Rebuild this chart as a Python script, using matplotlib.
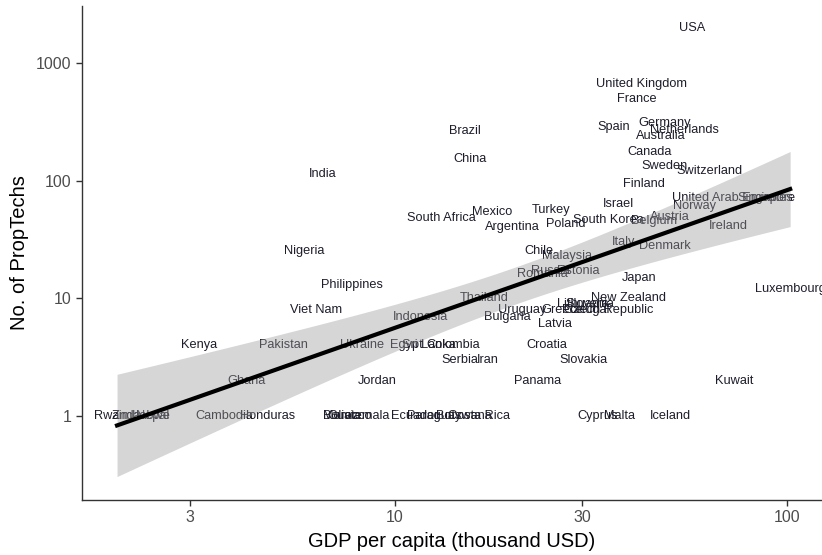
import matplotlib
matplotlib.use("Agg")
import matplotlib.pyplot as plt
import numpy as np

plt.rcParams["font.family"] = ["Liberation Sans", "DejaVu Sans"]

# GDP per capita (thousand USD) and number of PropTechs per country
countries = [
    "USA", "United Kingdom", "France", "Spain", "Germany", "Netherlands",
    "Australia", "Canada", "Sweden", "Switzerland", "Finland", "Israel",
    "United Arab Emirates", "Singapore", "Norway", "Austria", "Belgium",
    "South Korea", "Ireland", "Poland", "Turkey", "Mexico", "Argentina",
    "South Africa", "India", "Brazil", "China", "Nigeria", "Philippines",
    "Viet Nam", "Indonesia", "Thailand", "Bulgaria", "Uruguay", "Greece",
    "Latvia", "Chile", "Malaysia", "Romania", "Russia", "Estonia", "Italy",
    "Denmark", "Japan", "New Zealand", "Lithuania", "Slovenia", "Portugal",
    "Czech Republic", "Luxembourg", "Kenya", "Pakistan", "Ukraine", "Egypt",
    "Sri Lanka", "Colombia", "Serbia", "Iran", "Croatia", "Slovakia",
    "Ghana", "Jordan", "Panama", "Kuwait", "Rwanda", "Zimbabwe", "Nepal",
    "Cambodia", "Honduras", "Bolivia", "Morocco", "Guatemala", "Ecuador",
    "Paraguay", "Botswana", "Costa Rica", "Cyprus", "Malta", "Iceland",
]
gdp = [
    57.4, 42.5, 41.3, 36.1, 48.7, 54.7,
    47.8, 44.6, 48.6, 63.6, 43.1, 37.1,
    72.6, 88.7, 58.0, 50.4, 45.9,
    35.0, 70.9, 27.3, 25.0, 17.7, 19.9,
    13.1, 6.55, 15.1, 15.5, 5.86, 7.76,
    6.28, 11.6, 16.9, 19.3, 21.1, 26.7,
    25.6, 23.3, 27.5, 23.7, 24.9, 29.4, 38.2,
    48.9, 42.0, 39.4, 30.2, 31.5, 30.6,
    35.2, 102.0, 3.16, 5.2, 8.23, 10.7,
    12.2, 14.1, 14.6, 17.2, 24.4, 30.2,
    4.17, 8.99, 23.1, 73.5, 1.95, 2.25, 2.4,
    3.66, 4.73, 7.29, 7.55, 8.06, 11.2,
    12.6, 15.0, 16.4, 32.8, 37.3, 50.4,
]
proptechs = [
    2000, 660, 490, 285, 310, 270,
    240, 175, 133, 121, 94, 63,
    71, 71, 61, 49, 45,
    46, 41, 43, 56, 54, 40,
    48, 114, 264, 153, 25, 13,
    8, 7, 10, 7, 8, 8,
    6, 25, 23, 16, 17, 17, 30,
    28, 15, 10, 9, 9, 8,
    8, 12, 4, 4, 4, 4,
    4, 4, 3, 3, 4, 3,
    2, 2, 2, 2, 1, 1, 1,
    1, 1, 1, 1, 1, 1,
    1, 1, 1, 1, 1, 1,
]

x = np.log10(np.array(gdp))
y = np.log10(np.array(proptechs))

# linear fit on log-log scale with 95% confidence band
n = len(x)
slope, intercept = np.polyfit(x, y, 1)
resid = y - (slope * x + intercept)
s = np.sqrt(np.sum(resid ** 2) / (n - 2))
sxx = np.sum((x - x.mean()) ** 2)
t_crit = 1.99
xs = np.linspace(x.min(), x.max(), 200)
fit = slope * xs + intercept
se = s * np.sqrt(1 / n + (xs - x.mean()) ** 2 / sxx)

fig = plt.figure(figsize=(8.22, 5.55), dpi=100)
ax = fig.add_axes([82 / 822, 55 / 555, 1 - 82 / 822, 494 / 555])

# labels go under the ribbon, so the ones inside it look faded
for name, gx, py in zip(countries, gdp, proptechs):
    ax.text(gx, py, name, ha="center", va="center", fontsize=9.2,
            color="#1d1d2b", zorder=1, clip_on=False)

ax.fill_between(10 ** xs, 10 ** (fit - t_crit * se), 10 ** (fit + t_crit * se),
                color="#999999", alpha=0.4, lw=0, zorder=2)
ax.plot(10 ** xs, 10 ** fit, color="black", lw=3, zorder=3)

ax.set_xscale("log")
ax.set_yscale("log")
ax.set_xlim(1.587, 123)
ax.set_ylim(0.193, 3050)
ax.set_xticks([3, 10, 30, 100])
ax.set_xticklabels(["3", "10", "30", "100"])
ax.set_yticks([1, 10, 100, 1000])
ax.set_yticklabels(["1", "10", "100", "1000"])
ax.minorticks_off()
ax.tick_params(axis="both", length=4, width=1, color="#333333",
               labelsize=11.5, labelcolor="#4d4d4d")

for side in ["top", "right"]:
    ax.spines[side].set_visible(False)
for side in ["left", "bottom"]:
    ax.spines[side].set_color("#333333")
    ax.spines[side].set_linewidth(1)

ax.set_xlabel("GDP per capita (thousand USD)", fontsize=14.5, labelpad=5)
ax.set_ylabel("No. of PropTechs", fontsize=14.5, labelpad=5)

fig.savefig("out.png", dpi=100)
plt.close(fig)
